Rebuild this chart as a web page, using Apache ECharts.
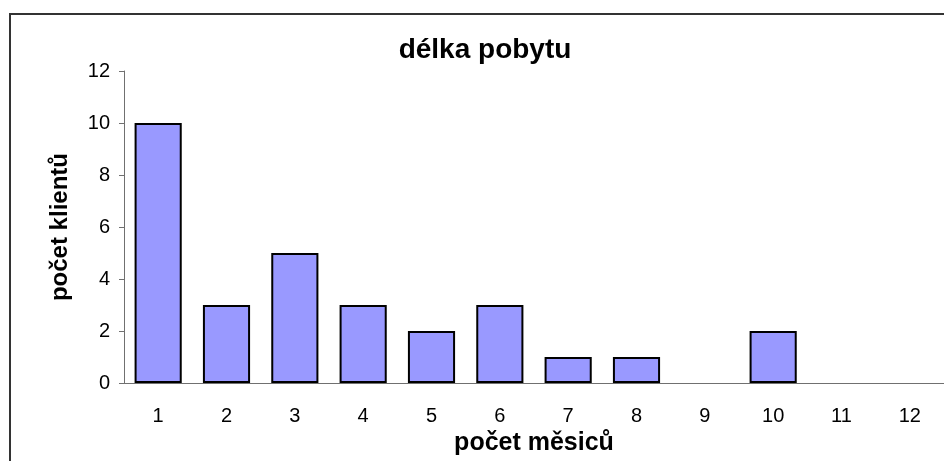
<!DOCTYPE html>
<html>
<head>
<meta charset="utf-8">
<script src="https://cdn.jsdelivr.net/npm/echarts@6/dist/echarts.min.js"></script>
<style>
  html, body { margin: 0; padding: 0; background: #fff; }
  #chart { width: 944px; height: 461px; }
</style>
</head>
<body>
<div id="chart"></div>
<script>
const months = ['1', '2', '3', '4', '5', '6', '7', '8', '9', '10', '11', '12'];
const clients = [10, 3, 5, 3, 2, 3, 1, 1, 0, 2, 0, 0];
const yTicks = [0, 2, 4, 6, 8, 10, 12];

const font = '"Liberation Sans", Arial, sans-serif';
const chart = echarts.init(document.getElementById('chart'));

// zero bars are not drawn at all in the original
const barData = clients.map(v => v === 0
  ? { value: v, itemStyle: { borderWidth: 0, opacity: 0 } }
  : v);

const option = {
  animation: false,
  textStyle: { fontFamily: font },
  title: {
    text: 'délka pobytu',
    left: 480,
    top: 31,
    textAlign: 'center',
    textStyle: { fontFamily: font, fontSize: 28, fontWeight: 'bold', color: '#000' }
  },
  graphic: [{
    type: 'rect',
    shape: { x: 10, y: 14, width: 960, height: 480 },
    style: { fill: 'none', stroke: '#333', lineWidth: 2 },
    silent: true
  }],
  grid: { left: 124, right: -12, top: 71, bottom: 77 },
  xAxis: {
    type: 'category',
    data: months,
    name: 'počet měsiců',
    nameLocation: 'middle',
    nameGap: 46,
    nameTextStyle: { fontFamily: font, fontSize: 25, fontWeight: 'bold', color: '#000' },
    axisLine: { lineStyle: { color: '#707070', width: 1 } },
    axisTick: { length: 5, lineStyle: { color: '#707070' } },
    axisLabel: { fontSize: 20, color: '#000', margin: 23, fontFamily: font }
  },
  yAxis: {
    type: 'value',
    min: yTicks[0],
    max: yTicks[yTicks.length - 1],
    interval: 2,
    name: 'počet klientů',
    nameLocation: 'middle',
    nameGap: 52,
    nameTextStyle: { fontFamily: font, fontSize: 24, fontWeight: 'bold', color: '#000' },
    axisLine: { show: true, lineStyle: { color: '#707070', width: 1 } },
    axisTick: { show: true, length: 5, inside: false, lineStyle: { color: '#707070' } },
    axisLabel: { fontSize: 20, color: '#000', margin: 14, fontFamily: font },
    splitLine: { show: false }
  },
  series: [{
    type: 'bar',
    data: barData,
    barCategoryGap: '31%',
    itemStyle: { color: '#9999ff', borderColor: '#000', borderWidth: 2 }
  }]
};
chart.setOption(option);
</script>
</body>
</html>
